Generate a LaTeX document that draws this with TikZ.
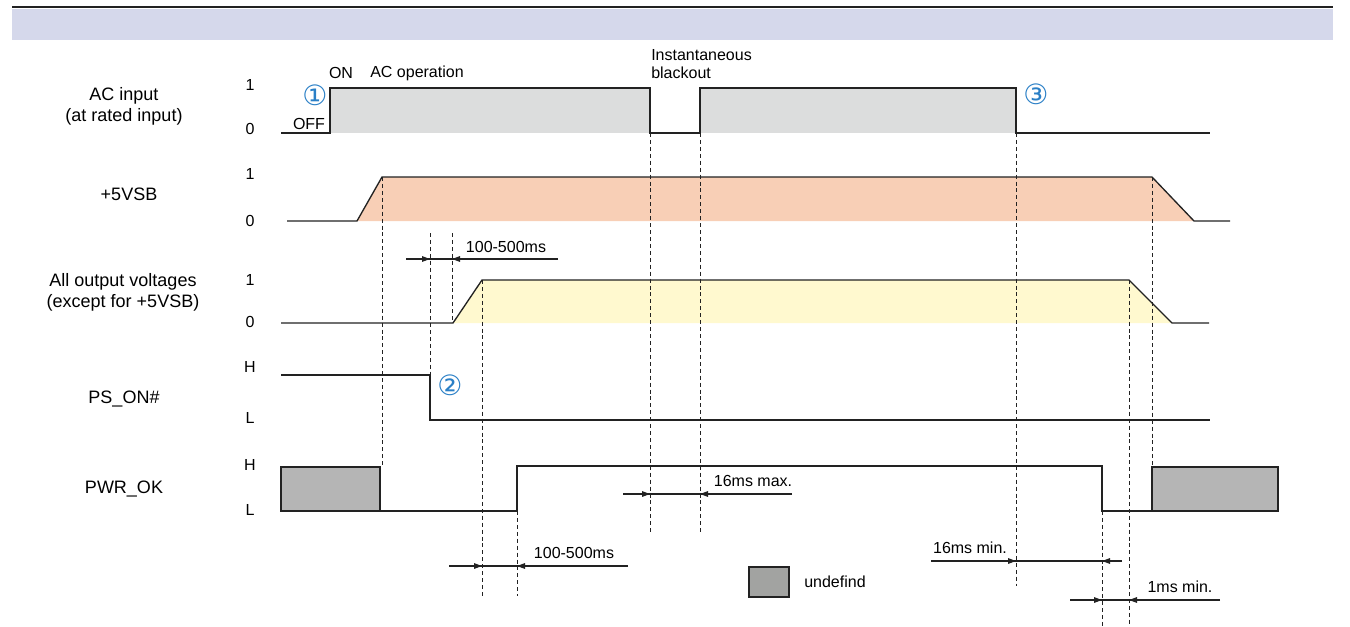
\documentclass[tikz,border=0pt]{standalone}
\usepackage{fontspec}
\setmainfont{Liberation Sans}
\newfontfamily\circfont{DejaVu Sans}
\usetikzlibrary{arrows.meta}
\definecolor{bandcol}{HTML}{D5D8EB}
\definecolor{acfill}{HTML}{DCDDDD}
\definecolor{sbfill}{HTML}{F8CFB6}
\definecolor{outfill}{HTML}{FFF9CF}
\definecolor{undefcol}{HTML}{B5B5B5}
\definecolor{legcol}{HTML}{A2A3A1}
\definecolor{numcol}{HTML}{2A7FC6}
\definecolor{inkcol}{HTML}{222222}

\begin{document}
\begin{tikzpicture}[x=0.75pt,y=-0.75pt,line cap=butt,line join=miter,
  sig/.style={line width=1pt,draw=inkcol},
  guide/.style={line width=0.65pt,draw=inkcol,dash pattern=on 3pt off 2.2pt},
  dim/.style={line width=0.8pt,draw=inkcol},
  tip/.style={-{Triangle[length=6pt,width=4.2pt]},line width=0.8pt,draw=inkcol},
  sigtxt/.style={font=\fontsize{13.5}{15.8}\selectfont,align=center,inner sep=0pt},
  lvl/.style={font=\fontsize{12}{14}\selectfont,inner sep=0pt},
  note/.style={font=\fontsize{12}{14}\selectfont,inner sep=0pt},
  num/.style={font=\circfont\fontsize{21}{22}\selectfont,text=numcol,inner sep=0pt}]
\useasboundingbox (0,0) rectangle (1350,626);
% header band
\fill[bandcol] (12,9) rectangle (1333,40);
\draw[line width=1.6pt,inkcol] (12,7) -- (1333,7);
% fills
\fill[acfill] (330,88) rectangle (650,133);
\fill[acfill] (700,88) rectangle (1016,133);
\fill[sbfill] (357,221) -- (382,177) -- (1152,177) -- (1194,221) -- cycle;
\fill[outfill] (453,323) -- (482,280) -- (1129,280) -- (1172,323) -- cycle;
% guide lines
\draw[guide] (382,177) -- (382,466);
\draw[guide] (430,233) -- (430,375);
\draw[guide] (452,233) -- (452,323);
\draw[guide] (482,280) -- (482,596);
\draw[guide] (517,511) -- (517,596);
\draw[guide] (650,133) -- (650,535);
\draw[guide] (700,133) -- (700,535);
\draw[guide] (1016,133) -- (1016,586);
\draw[guide] (1102,511) -- (1102,626);
\draw[guide] (1129,280) -- (1129,626);
\draw[guide] (1152,177) -- (1152,467);
% waveforms
\draw[sig] (281,133) -- (330,133) -- (330,88) -- (650,88) -- (650,133) -- (700,133) -- (700,88) -- (1016,88) -- (1016,133) -- (1210,133);
\draw[sig] (287,221) -- (357,221) -- (382,177) -- (1152,177) -- (1194,221) -- (1230,221);
\draw[sig] (281,323) -- (453,323) -- (482,280) -- (1129,280) -- (1172,323) -- (1209,323);
\draw[sig] (281,375) -- (430,375) -- (430,420) -- (1210,420);
\draw[sig,fill=undefcol] (281,467) rectangle (380,511);
\draw[sig,fill=undefcol] (1152,467) rectangle (1278,511);
\draw[sig] (380,511) -- (517,511) -- (517,466) -- (1102,466) -- (1102,511) -- (1152,511);
% dimension ends
\coordinate (d1a) at (406,259);
\coordinate (d1b) at (430,259);
\coordinate (d1c) at (452,259);
\coordinate (d1d) at (558,259);
\coordinate (d2a) at (449,566);
\coordinate (d2b) at (482,566);
\coordinate (d2c) at (517,566);
\coordinate (d2d) at (628,566);
\coordinate (d3a) at (623,494);
\coordinate (d3b) at (650,494);
\coordinate (d3c) at (700,494);
\coordinate (d3d) at (792,494);
\coordinate (d4a) at (931,561);
\coordinate (d4b) at (1016,561);
\coordinate (d4c) at (1102,561);
\coordinate (d4d) at (1122,561);
\coordinate (d5a) at (1070,600);
\coordinate (d5b) at (1102,600);
\coordinate (d5c) at (1129,600);
\coordinate (d5d) at (1220,600);
\draw[dim] (d1a) -- (d1d);
\draw[tip] (d1a) -- (d1b);
\draw[tip] (d1d) -- (d1c);
\draw[dim] (d2a) -- (d2d);
\draw[tip] (d2a) -- (d2b);
\draw[tip] (d2d) -- (d2c);
\draw[dim] (d3a) -- (d3d);
\draw[tip] (d3a) -- (d3b);
\draw[tip] (d3d) -- (d3c);
\draw[dim] (d4a) -- (d4d);
\draw[tip] (d4a) -- (d4b);
\draw[tip] (d4d) -- (d4c);
\draw[dim] (d5a) -- (d5d);
\draw[tip] (d5a) -- (d5b);
\draw[tip] (d5d) -- (d5c);
% legend
\draw[line width=1.3pt,draw=inkcol,fill=legcol] (749,567) rectangle (789,597);
\node[note,anchor=west] (undef) at (804,582) {undefind};
% signal names
\node[sigtxt] (acin) at (124,106) {AC input\\(at rated input)};
\node[sigtxt] (sb) at (129,194) {+5VSB};
\node[sigtxt] (allout) at (123,292) {All output voltages\\(except for +5VSB)};
\node[sigtxt] (pson) at (124,399) {PS\_ON\#};
\node[sigtxt] (pwrok) at (124,489) {PWR\_OK};
% levels
\node[lvl] (ac1) at (250,85) {1};
\node[lvl] (ac0) at (250,129) {0};
\node[lvl] (sb1) at (250,174) {1};
\node[lvl] (sb0) at (250,221) {0};
\node[lvl] (out1) at (250,280) {1};
\node[lvl] (out0) at (250,322) {0};
\node[lvl] (psH) at (250,367) {H};
\node[lvl] (psL) at (250,418) {L};
\node[lvl] (okH) at (250,465) {H};
\node[lvl] (okL) at (250,510) {L};
% annotations
\node[note] (off) at (309,124) {OFF};
\node[note] (on) at (341,73) {ON};
\node[note] (acop) at (417,73) {AC operation};
\node[note,anchor=west,align=left] (blk) at (651,64) {Instantaneous\\blackout};
\node[num] (n1) at (315,95) {①};
\node[num] (n2) at (450,385) {②};
\node[num] (n3) at (1036,94) {③};
\node[note] (t1) at (506,247) {100-500ms};
\node[note] (t2) at (574,553) {100-500ms};
\node[note] (t3) at (753,481) {16ms max.};
\node[note] (t4) at (970,548) {16ms min.};
\node[note] (t5) at (1180,587) {1ms min.};
\end{tikzpicture}
\end{document}
